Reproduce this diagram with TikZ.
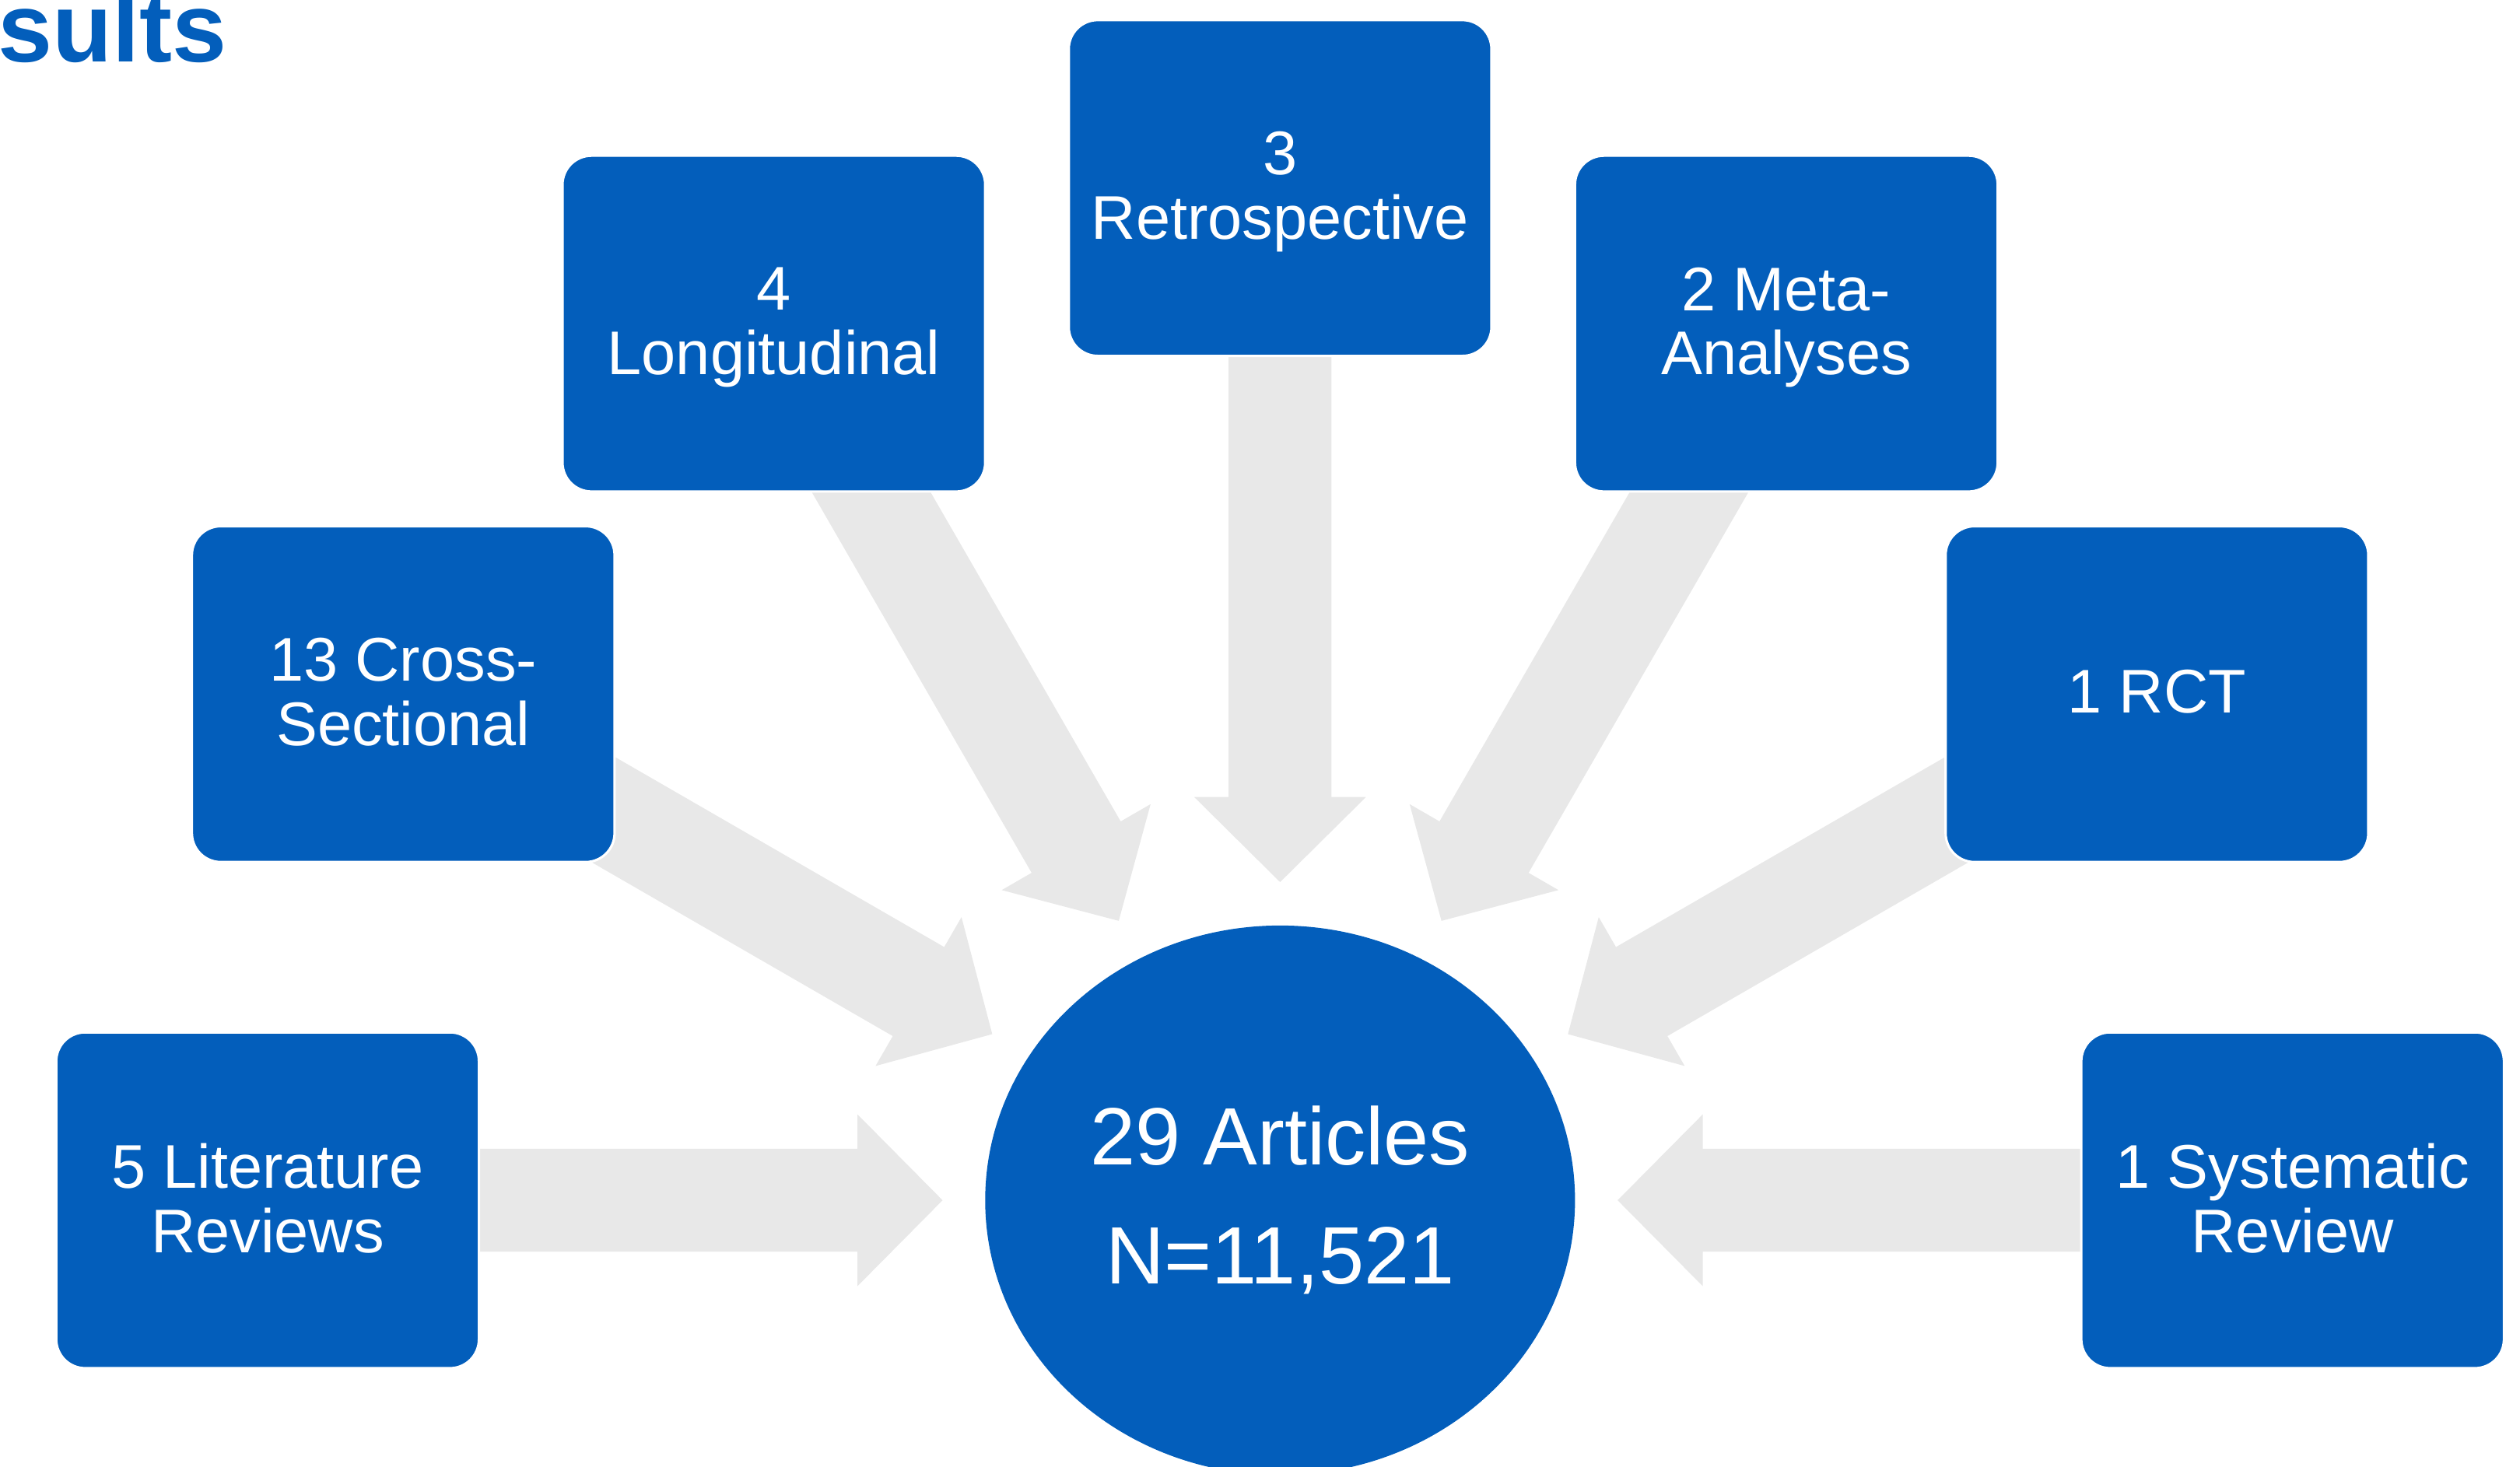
\documentclass[tikz,border=0pt]{standalone}
\usepackage{fontspec}
\setmainfont{Liberation Sans}
\usetikzlibrary{calc,shapes.geometric}
\definecolor{boxblue}{RGB}{3,94,187}
\definecolor{arrowgray}{RGB}{232,232,232}
\pgfdeclarelayer{bg}
\pgfsetlayers{bg,main}
\newcommand{\blockarrow}[2]{%
  \coordinate (hb) at ($(#2)!53pt!(#1.center)$);
  \fill[arrowgray] ($(#1.center)!32pt!90:(#2)$) -- ($(hb)!32pt!-90:(#1.center)$)
    -- ($(hb)!53.5pt!-90:(#1.center)$) -- (#2) -- ($(hb)!53.5pt!90:(#1.center)$)
    -- ($(hb)!32pt!90:(#1.center)$) -- ($(#1.center)!32pt!-90:(#2)$) -- cycle;
}
\begin{document}
\begin{tikzpicture}[x=1pt,y=-1pt,
  box/.style={rectangle, rounded corners=18pt, minimum width=263pt, minimum height=209pt,
    fill=boxblue, draw=white, line width=1.5pt, text=white, align=center, inner sep=4pt,
    text depth=3pt, font=\fontsize{38.4}{40}\selectfont},
  hub/.style={ellipse, minimum width=367pt, minimum height=342pt, inner sep=0pt,
    fill=boxblue, text=white, align=center, font=\fontsize{50.6}{74}\selectfont}]
\useasboundingbox (0,0) rectangle (1568,913);
\clip (0,0) rectangle (1568,913);
\node[anchor=base west, inner sep=0pt, text=boxblue,
  font=\bfseries\fontsize{61}{70}\selectfont] (title) at (-1.6,38.7) {sults};
\node[box] (lit) at (166.5,747) {5 Literature\\Reviews};
\node[box] (cross) at (250.9,432) {13 Cross-\\Sectional};
\node[box] (longi) at (481.5,201.4) {4\\Longitudinal};
\node[box] (retro) at (796.5,117) {3\\Retrospective};
\node[box] (meta) at (1111.5,201.4) {2 Meta-\\Analyses};
\node[box] (rct) at (1342.1,432) {1 RCT};
\node[box] (sys) at (1426.5,747) {1 Systematic\\Review};
\node[hub] (hub) at (796.5,747) {29 Articles\\N=11,521};
\coordinate (tlit) at (586.5,747);
\coordinate (tcross) at (617.4,643.6);
\coordinate (tlongi) at (696.1,573.1);
\coordinate (tretro) at (796.5,549);
\coordinate (tmeta) at (896.9,573.1);
\coordinate (trct) at (975.6,643.6);
\coordinate (tsys) at (1006.5,747);
\begin{pgfonlayer}{bg}
\blockarrow{lit}{tlit}
\blockarrow{cross}{tcross}
\blockarrow{longi}{tlongi}
\blockarrow{retro}{tretro}
\blockarrow{meta}{tmeta}
\blockarrow{rct}{trct}
\blockarrow{sys}{tsys}
\end{pgfonlayer}
\end{tikzpicture}
\end{document}
